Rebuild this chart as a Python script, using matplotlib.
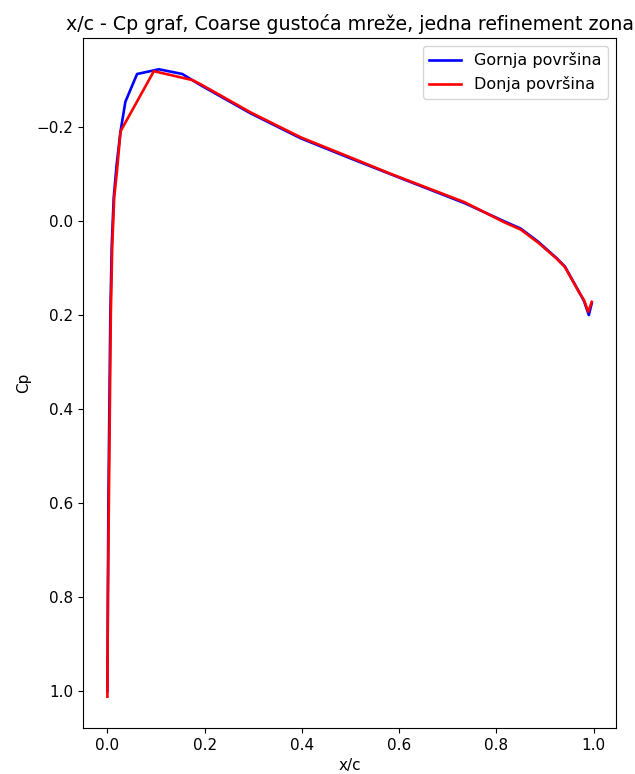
import matplotlib
matplotlib.use('Agg')
import matplotlib.pyplot as plt

# Gornja povrsina (upper surface)
x_upper = [0.0, 0.001, 0.002, 0.004, 0.006, 0.009, 0.013, 0.019, 0.027, 0.037, 0.061,
           0.106, 0.154, 0.192, 0.295, 0.398, 0.501, 0.604, 0.735, 0.817, 0.850,
           0.886, 0.924, 0.941, 0.968, 0.980, 0.990, 0.996]
cp_upper = [1.0, 0.80, 0.60, 0.40, 0.20, 0.05, -0.05, -0.12, -0.191, -0.254, -0.313,
            -0.323, -0.313, -0.289, -0.229, -0.176, -0.133, -0.091, -0.038, 0.001, 0.016,
            0.044, 0.079, 0.097, 0.147, 0.170, 0.200, 0.175]

# Donja povrsina (lower surface)
x_lower = [0.0, 0.001, 0.003, 0.005, 0.007, 0.010, 0.014, 0.020, 0.027, 0.0955,
           0.175, 0.192, 0.295, 0.398, 0.501, 0.584, 0.735, 0.817, 0.850, 0.886,
           0.924, 0.941, 0.968, 0.980, 0.989, 0.996]
cp_lower = [1.012, 0.80, 0.60, 0.40, 0.20, 0.05, -0.05, -0.11, -0.191, -0.319,
            -0.300, -0.291, -0.231, -0.178, -0.135, -0.100, -0.040, 0.003, 0.018, 0.046,
            0.080, 0.098, 0.148, 0.168, 0.193, 0.172]

fig, ax = plt.subplots(figsize=(6.35, 7.74), dpi=100)
fig.subplots_adjust(left=0.131, right=0.970, top=0.951, bottom=0.0594)

ax.plot(x_upper, cp_upper, color='blue', linewidth=1.9, label='Gornja površina')
ax.plot(x_lower, cp_lower, color='red', linewidth=1.9, label='Donja površina')

ax.invert_yaxis()
ax.set_xlabel('x/c', fontsize=11)
ax.set_ylabel('Cp', fontsize=11)
ax.tick_params(labelsize=11)
ax.set_title('x/c - Cp graf, Coarse gustoća mreže, jedna refinement zona', fontsize=13.7)
ax.legend(loc='upper right', fontsize=11.5)

fig.savefig('out.png')
